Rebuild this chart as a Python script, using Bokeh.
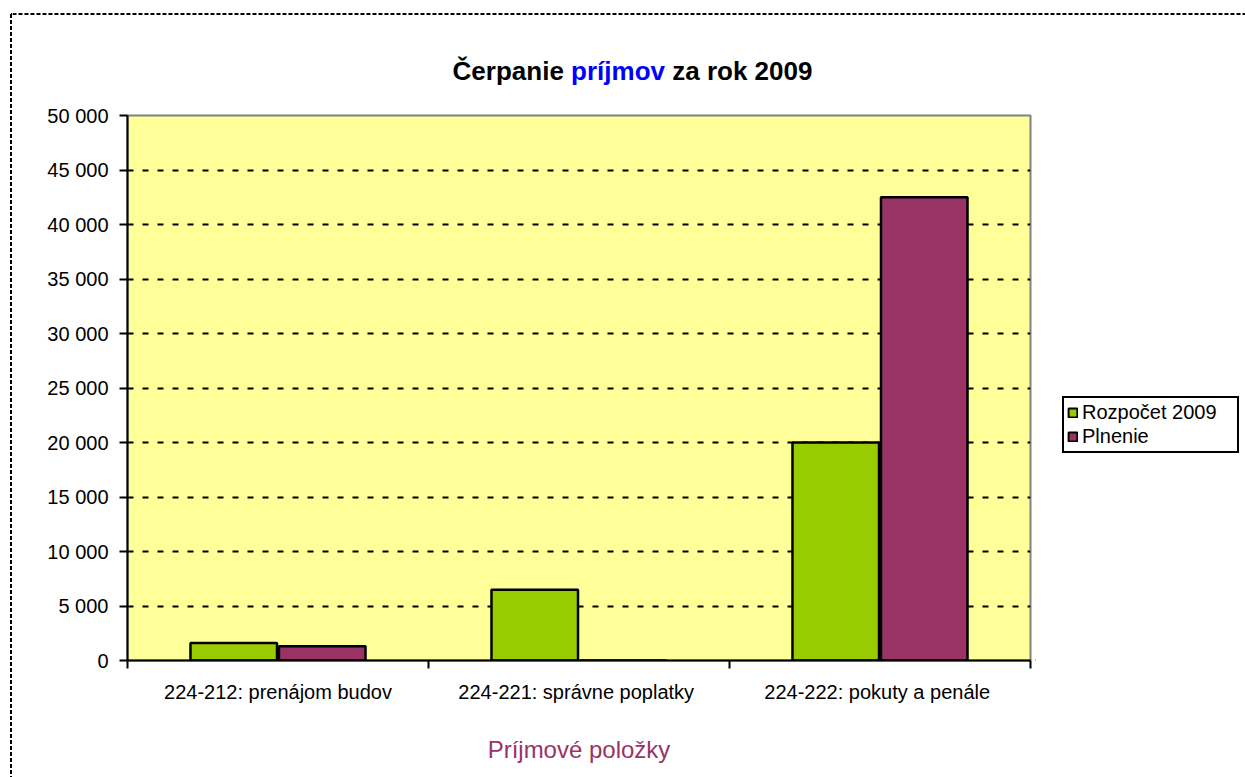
import numpy as np
from bokeh.plotting import figure
from bokeh.layouts import column, row
from bokeh.models import (Range1d, FixedTicker, Legend, LegendItem,
                          ColumnDataSource)
from bokeh.core.properties import value
from bokeh.embed import file_html
from bokeh.resources import INLINE

# ---------------- data ----------------
categories = ["224-212: prenájom budov",
              "224-221:  správne poplatky",
              "224-222:  pokuty a penále"]
series_names = ["Rozpočet 2009", "Plnenie"]
rozpocet = [1600, 6500, 20000]
plnenie = [1300, 0, 42500]
y_ticks = [0, 5000, 10000, 15000, 20000, 25000, 30000, 35000, 40000, 45000, 50000]
y_tick_labels = ["0", "5 000", "10 000", "15 000", "20 000", "25 000",
                 "30 000", "35 000", "40 000", "45 000", "50 000"]
title_parts = ["Čerpanie", "príjmov", "za rok 2009"]
title_colors = ["black", "#0000FF", "black"]
x_axis_title = "Príjmové položky"

# ---------------- style ----------------
FONT = "Liberation Sans"
GREEN = "#99CC00"
PURPLE = "#993366"
YELLOW = "#FFFF99"
TOTAL_W, TOTAL_H = 1245, 777
HEAD_H = 100
STRIP_W = 12
MAIN_H = TOTAL_H - HEAD_H
TOP_B, BOT_B = 15, 117
LEFT_B, RIGHT_B = 115, 5
FRAME_W = 903
MAIN_W = LEFT_B + FRAME_W + RIGHT_B
LEG_W = TOTAL_W - STRIP_W - MAIN_W


def bare(fig):
    fig.xaxis.visible = False
    fig.yaxis.visible = False
    fig.xgrid.visible = False
    fig.ygrid.visible = False
    fig.outline_line_color = None
    fig.background_fill_color = "white"
    fig.border_fill_color = "white"
    fig.min_border_left = 0
    fig.min_border_right = 0
    fig.min_border_top = 0
    fig.min_border_bottom = 0
    return fig


# ---------- left strip (dashed page frame) ----------
strip = bare(figure(width=STRIP_W, height=TOTAL_H, output_backend="svg",
                    toolbar_location=None, x_range=Range1d(0, STRIP_W),
                    y_range=Range1d(TOTAL_H, 0)))
strip.segment(x0=[10.5, 10.5], y0=[13.5, 13.5], x1=[10.5, STRIP_W],
              y1=[TOTAL_H, 13.5], line_color="black", line_width=2,
              line_dash="4 2")

# ---------- header (title + dashed page frame) ----------
head = bare(figure(width=TOTAL_W - STRIP_W, height=HEAD_H, output_backend="svg",
                   toolbar_location=None, x_range=Range1d(STRIP_W, TOTAL_W),
                   y_range=Range1d(HEAD_H, 0)))
fs = 26
em_w = [4.557, 3.612 + 0.278]
left0 = 632 - 13.839 * fs / 2
starts = [left0, left0 + em_w[0] * fs, left0 + (em_w[0] + em_w[1]) * fs]
head.text(x=starts, y=[70] * 3, text=title_parts, text_color=title_colors,
          text_font=value(FONT), text_font_size=f"{fs}px",
          text_font_style="bold", text_align="left",
          text_baseline="alphabetic")
head.segment(x0=[STRIP_W], y0=[13.5], x1=[TOTAL_W], y1=[13.5],
             line_color="black", line_width=2, line_dash="4 2")

# ---------- main chart ----------
p = figure(width=MAIN_W, height=MAIN_H, output_backend="svg",
           toolbar_location=None,
           x_range=Range1d(0, 3), y_range=Range1d(0, 50000),
           min_border_left=LEFT_B, min_border_right=RIGHT_B,
           min_border_top=TOP_B, min_border_bottom=BOT_B)
p.background_fill_color = YELLOW
p.border_fill_color = "white"
p.outline_line_color = "#808080"
p.outline_line_width = 2

idx = np.arange(len(categories))
bw = 0.2875
src = ColumnDataSource(dict(x1=idx + 0.353, x2=idx + 0.647,
                            r=rozpocet, pl=plnenie))
p.vbar(x="x1", top="r", width=bw, source=src, fill_color=GREEN,
       line_color="black", line_width=2.5)
p.vbar(x="x2", top="pl", width=bw, source=src, fill_color=PURPLE,
       line_color="black", line_width=2.5)

xa = p.xaxis[0]
xa.ticker = FixedTicker(ticks=list(idx + 0.5),
                        minor_ticks=list(range(len(categories) + 1)))
xa.major_label_overrides = {float(i + 0.5): c for i, c in enumerate(categories)}
xa.major_tick_line_color = None
xa.major_tick_out = 0
xa.major_tick_in = 0
xa.minor_tick_out = 8
xa.minor_tick_in = 0
xa.minor_tick_line_color = "black"
xa.minor_tick_line_width = 2
xa.axis_line_color = "black"
xa.axis_line_width = 2
xa.major_label_text_font = FONT
xa.major_label_text_font_size = "20px"
xa.major_label_text_color = "black"
xa.major_label_standoff = 12
xa.axis_label = x_axis_title
xa.axis_label_text_font = FONT
xa.axis_label_text_font_size = "24px"
xa.axis_label_text_font_style = "normal"
xa.axis_label_text_color = PURPLE
xa.axis_label_standoff = 30

ya = p.yaxis[0]
ya.ticker = FixedTicker(ticks=y_ticks, minor_ticks=[])
ya.major_label_overrides = {t: l for t, l in zip(y_ticks, y_tick_labels)}
ya.major_tick_out = 8
ya.major_tick_in = 0
ya.major_tick_line_width = 2
ya.major_tick_line_color = "black"
ya.axis_line_color = "black"
ya.axis_line_width = 2
ya.major_label_text_font = FONT
ya.major_label_text_font_size = "20px"
ya.major_label_text_color = "black"
ya.major_label_standoff = 11

p.xgrid.visible = False
p.ygrid.grid_line_color = "black"
p.ygrid.grid_line_width = 2
p.ygrid.grid_line_dash = "6 9"

# ---------- legend panel ----------
lf = bare(figure(width=LEG_W, height=MAIN_H, output_backend="svg",
                 toolbar_location=None, x_range=Range1d(0, 1),
                 y_range=Range1d(0, 1)))
lf.min_border_top = TOP_B
lf.min_border_bottom = BOT_B
# legend swatches only: one placeholder bar, kept outside the visible range
swatch = ColumnDataSource(dict(x=[-5.0], top=[0.0]))
g1 = lf.vbar(x="x", top="top", width=0.1, source=swatch, fill_color=GREEN,
             line_color="black", line_width=2)
g2 = lf.vbar(x="x", top="top", width=0.1, source=swatch, fill_color=PURPLE,
             line_color="black", line_width=2)
legend = Legend(items=[LegendItem(label=series_names[0], renderers=[g1]),
                       LegendItem(label=series_names[1], renderers=[g2])],
                location=(1062 - (STRIP_W + MAIN_W), 207))
legend.label_text_font = FONT
legend.label_text_font_size = "20px"
legend.label_text_color = "black"
legend.label_height = 20
legend.label_width = 152
legend.glyph_height = 11
legend.glyph_width = 11
legend.label_standoff = 4
legend.spacing = 1
legend.padding = 3
legend.margin = 0
legend.border_line_color = "black"
legend.border_line_alpha = 1
legend.border_line_width = 2
legend.background_fill_color = "white"
legend.background_fill_alpha = 1
lf.add_layout(legend)

layout = row(strip, column(head, row(p, lf, spacing=0), spacing=0), spacing=0)
open("out.html", "w").write(file_html(layout, INLINE))
